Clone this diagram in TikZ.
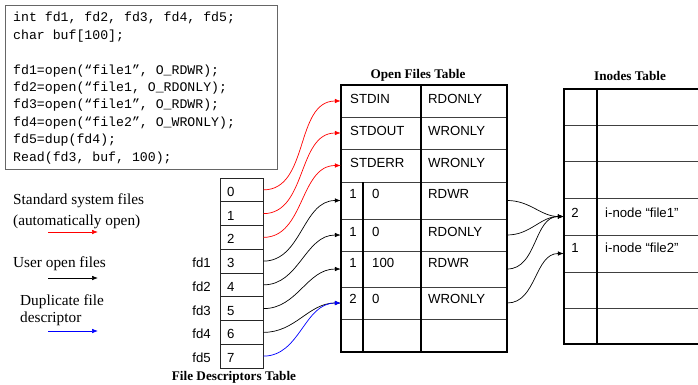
\documentclass[tikz,border=0pt]{standalone}
\usepackage{fontspec}
\setmainfont{Liberation Serif}
\newfontfamily\tabfont{Liberation Sans}
\newfontfamily\codefont{Liberation Mono}
\usetikzlibrary{arrows.meta}

\begin{document}
\begin{tikzpicture}[x=1pt,y=-1pt,
  codeline/.style={anchor=base west, inner sep=0, font=\codefont\fontsize{13.2}{16}\selectfont},
  celltext/.style={anchor=base west, inner sep=0, font=\tabfont\fontsize{13.2}{16}\selectfont},
  cellnum/.style={anchor=base, inner sep=0, font=\tabfont\fontsize{13.2}{16}\selectfont},
  fdlabel/.style={anchor=base east, inner sep=0, font=\tabfont\fontsize{13.2}{16}\selectfont},
  legendtext/.style={anchor=base west, inner sep=0, font=\fontsize{15.3}{18}\selectfont},
  tabletitle/.style={anchor=base, inner sep=0, font=\bfseries\fontsize{13.2}{16}\selectfont},
  fdcell/.style={draw=black!85, line width=0.8pt, minimum width=43pt, minimum height=23.75pt, inner sep=0},
  rowbox/.style={inner sep=0, minimum width=166pt},
  inobox/.style={inner sep=0, minimum width=134pt},
  frame/.style={line width=2.4pt, line join=miter},
  rule/.style={line width=0.8pt, draw=black!75},
  link/.style={line width=0.7pt, -{Latex[length=6pt,width=4.6pt]}},
]
\useasboundingbox (0,0) rectangle (698,385);

% ---- program listing ----
\node[draw=black!60, line width=0.8pt, minimum width=272pt, minimum height=164pt, inner sep=0] (codebox) at (141,87) {};
\node[codeline] (c1) at (13,22.0)  {int fd1, fd2, fd3, fd4, fd5;};
\node[codeline] (c2) at (13,39.4)  {char buf[100];};
\node[codeline] (c3) at (13,74.2)  {fd1=open(“file1”, O\_RDWR);};
\node[codeline] (c4) at (13,91.6)  {fd2=open(“file1, O\_RDONLY);};
\node[codeline] (c5) at (13,109.0) {fd3=open(“file1”, O\_RDWR);};
\node[codeline] (c6) at (13,126.4) {fd4=open(“file2”, O\_WRONLY);};
\node[codeline] (c7) at (13,143.8) {fd5=dup(fd4);};
\node[codeline] (c8) at (13,161.2) {Read(fd3, buf, 100);};

% ---- legend ----
\node[legendtext] (lgA) at (13,204)    {Standard system files};
\node[legendtext] (lgB) at (13,225)    {(automatically open)};
\node[legendtext] (lgC) at (13,267.5)  {User open files};
\node[legendtext] (lgD) at (20,305.5)  {Duplicate file};
\node[legendtext] (lgE) at (20,322.5)  {descriptor};
\coordinate (r0) at (48,232); \coordinate (r1) at (98,232);
\coordinate (k0) at (48,278); \coordinate (k1) at (98,278);
\coordinate (b0) at (48,331); \coordinate (b1) at (98,331);
\draw[link, red]  (r0) -- (r1);
\draw[link, black] (k0) -- (k1);
\draw[link, blue] (b0) -- (b1);

% ---- file descriptors table ----
\foreach \i in {0,...,7}{
  \node[fdcell] (fd\i) at (241.5,{178+23.75*(\i+0.5)}) {};
  \node[celltext] (fdn\i) at (227,{178+23.75*(\i+0.5)+6.5}) {\i};
}
\foreach \i/\n in {3/1,4/2,5/3,6/4,7/5}{
  \node[fdlabel] (fdl\i) at (211,{178+23.75*(\i+0.5)+6.5}) {fd\n};
}
\node[tabletitle] (fdtitle) at (234,380) {File Descriptors Table};

% ---- open files table ----
\node[tabletitle] (oftitle) at (418,78.5) {Open Files Table};
\foreach \r/\t/\b in {1/85/117,2/117/149,3/149/182,4/182/219,5/219/251,6/251/287,7/287/319,8/319/352}{
  \node[rowbox, minimum height={(\b-\t)*1pt}] (of\r) at (424,{(\t+\b)/2}) {};
}
\foreach \y in {117,149,182,219,251,287,319}{
  \draw[rule] (341,\y) -- (507,\y);
}
\draw[frame] (421,85) -- (421,352);
\draw[frame] (363,182) -- (363,352);
\draw[frame] (341,85) rectangle (507,352);

\node[celltext] (ofa1) at (350,103.7) {STDIN};
\node[celltext] (ofb1) at (428,103.7) {RDONLY};
\node[celltext] (ofa2) at (350,135.4) {STDOUT};
\node[celltext] (ofb2) at (428,135.4) {WRONLY};
\node[celltext] (ofa3) at (350,167)   {STDERR};
\node[celltext] (ofb3) at (428,167)   {WRONLY};
\foreach \r/\y/\c/\o/\m in {4/198.7/1/0/RDWR,5/236.7/1/0/RDONLY,6/267.7/1/100/RDWR,7/303.7/2/0/WRONLY}{
  \node[cellnum]  (ofc\r) at (353,\y) {\c};
  \node[celltext] (ofo\r) at (372,\y) {\o};
  \node[celltext] (ofm\r) at (428,\y) {\m};
}

% ---- inodes table ----
\node[tabletitle] (inotitle) at (630,81) {Inodes Table};
\foreach \r/\t/\b in {1/89/125,2/125/161,3/161/198,4/198/235,5/235/272,6/272/308,7/308/344}{
  \node[inobox, minimum height={(\b-\t)*1pt}] (ino\r) at (631,{(\t+\b)/2}) {};
}
\foreach \y in {125,161,198,235,272,308}{
  \draw[rule] (564,\y) -- (698,\y);
}
\draw[frame] (698,89) -- (564,89) -- (564,344) -- (698,344);
\draw[frame] (597,89) -- (597,344);
\node[cellnum]  (inoc4) at (575,217.4) {2};
\node[celltext] (inot4) at (605,217.4) {i-node “file1”};
\node[cellnum]  (inoc5) at (575,252.4) {1};
\node[celltext] (inot5) at (605,252.4) {i-node “file2”};

% ---- descriptor -> open file links ----
\draw[link, red] (fd0.east) to[out=0,in=180] (of1.west);
\draw[link, red] (fd1.east) to[out=0,in=180] (of2.west);
\draw[link, red] (fd2.east) to[out=0,in=180] (of3.west);
\draw[link] (fd3.east) to[out=0,in=180] (of4.west);
\draw[link] (fd4.east) to[out=0,in=180] (of5.west);
\draw[link] (fd5.east) to[out=0,in=180] (of6.west);
\draw[link] (fd6.east) to[out=0,in=180] (of7.west);
\draw[link, blue] (fd7.east) to[out=0,in=180] (of7.west);

% ---- open file -> inode links ----
\draw[link] (of4.east) to[out=0,in=180] (ino4.west);
\draw[link] (of5.east) to[out=0,in=180] (ino4.west);
\draw[link] (of6.east) to[out=0,in=180] (ino4.west);
\draw[link] (of7.east) to[out=0,in=180] (ino5.west);
\end{tikzpicture}
\end{document}
